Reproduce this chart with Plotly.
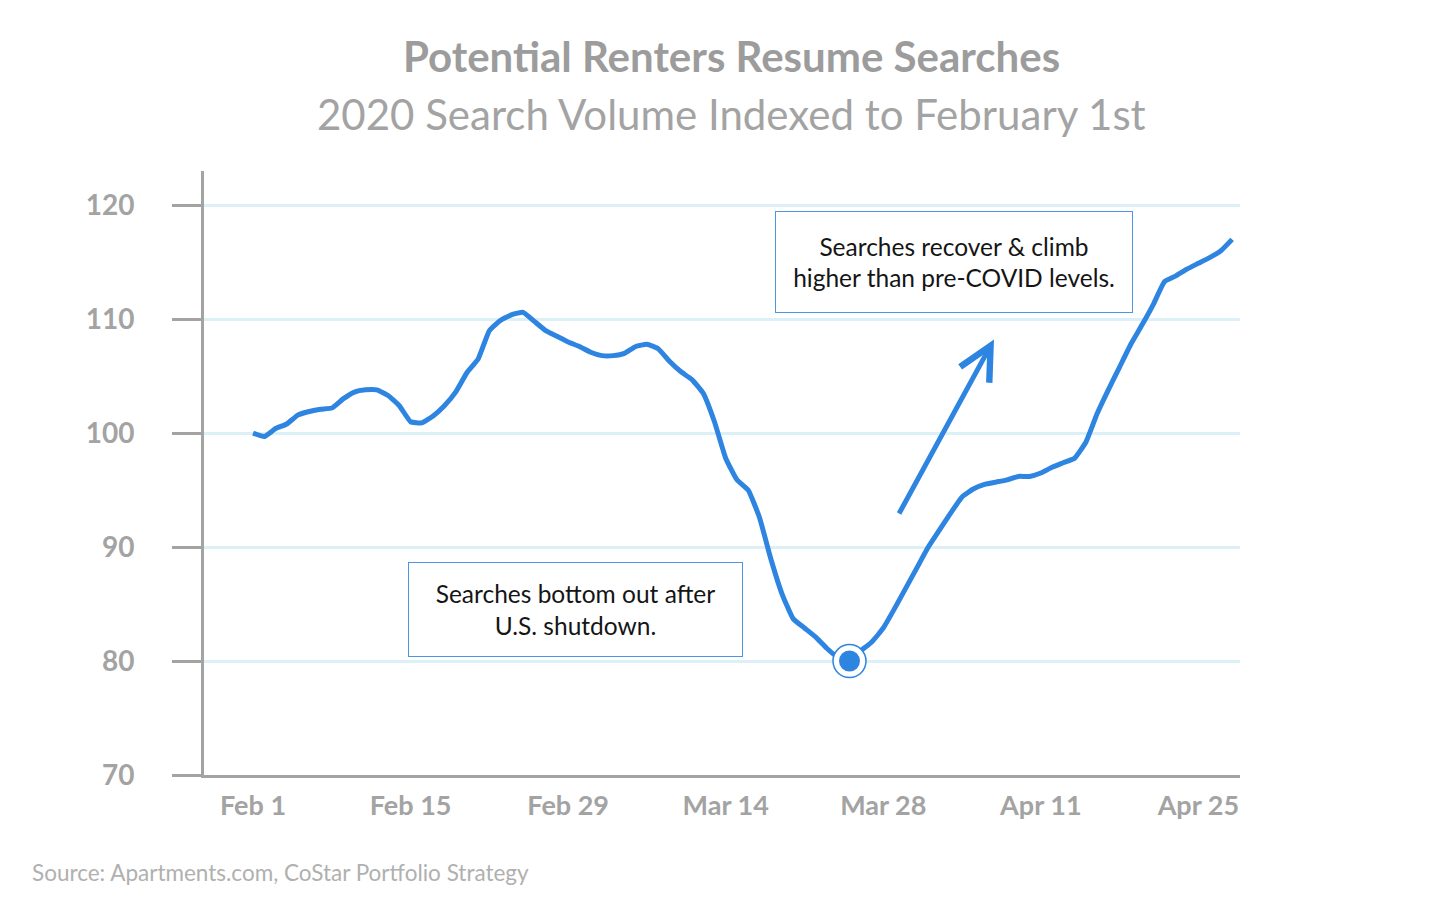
import pandas as pd
import plotly.graph_objects as go

# ---- data ----
start_date = "2020-02-01"
index_values = [
    100.0, 99.7, 100.4, 100.8, 101.6, 101.9, 102.1, 102.2, 103.0, 103.6,
    103.8, 103.8, 103.3, 102.4, 101.0, 100.9, 101.5, 102.4, 103.6, 105.3,
    106.5, 109.0, 109.9, 110.4, 110.6, 109.8, 109.0, 108.5, 108.0, 107.6,
    107.1, 106.8, 106.8, 107.0, 107.6, 107.8, 107.4, 106.3, 105.4, 104.7,
    103.5, 101.0, 97.8, 95.9, 95.0, 92.6, 89.0, 85.9, 83.7, 82.9,
    82.1, 81.1, 80.3, 80.0, 80.9, 81.7, 82.9, 84.6, 86.4, 88.2,
    90.0, 91.5, 93.0, 94.4, 95.1, 95.5, 95.7, 95.9, 96.2, 96.2,
    96.5, 97.0, 97.4, 97.8, 99.2, 101.7, 103.8, 105.8, 107.8, 109.5,
    111.3, 113.3, 113.8, 114.4, 114.9, 115.4, 116.0, 117.0,
]
x_tick_dates = ["2020-02-01", "2020-02-15", "2020-02-29", "2020-03-14",
                "2020-03-28", "2020-04-11", "2020-04-25"]
x_tick_labels = ["Feb 1", "Feb 15", "Feb 29", "Mar 14", "Mar 28", "Apr 11", "Apr 25"]
y_tick_vals = [70, 80, 90, 100, 110, 120]
y_tick_labels = ["70", "80", "90", "100", "110", "120"]

dates = pd.date_range(start_date, periods=len(index_values), freq="D")
min_i = min(range(len(index_values)), key=lambda i: index_values[i])

BLUE = "#2D84E1"
GRAY = "#a3a3a3"
FONT = "Lato"

def day(d):
    return pd.Timestamp(start_date) + pd.Timedelta(days=d)

fig = go.Figure()
fig.add_trace(go.Scatter(
    x=dates, y=index_values, mode="lines",
    line=dict(color=BLUE, width=5, shape="spline", smoothing=0.4),
    hoverinfo="skip", showlegend=False,
))
fig.add_trace(go.Scatter(
    x=[dates[min_i]], y=[index_values[min_i]], mode="markers",
    marker=dict(size=33, color="white", line=dict(color=BLUE, width=1.5)),
    showlegend=False, hoverinfo="skip",
))
fig.add_trace(go.Scatter(
    x=[dates[min_i]], y=[index_values[min_i]], mode="markers",
    marker=dict(size=21, color=BLUE),
    showlegend=False, hoverinfo="skip",
))

annotations = [
    dict(text="<b>Potential Renters Resume Searches</b>", x=0.509, y=1.19,
         xref="paper", yref="paper", showarrow=False, xanchor="center", yanchor="middle",
         font=dict(family=FONT, size=42, color="#9c9c9c")),
    dict(text="2020 Search Volume Indexed to February 1st", x=0.509, y=1.094,
         xref="paper", yref="paper", showarrow=False, xanchor="center", yanchor="middle",
         font=dict(family=FONT, size=42, color="#a3a3a3")),
    dict(text="Source: Apartments.com, CoStar Portfolio Strategy", x=-0.168, y=-0.162,
         xref="paper", yref="paper", showarrow=False, xanchor="left", yanchor="middle",
         font=dict(family=FONT, size=22.5, color="#b0b0b0")),
    dict(text="Searches bottom out after<br>U.S. shutdown.", x=0.3584, y=0.2739,
         xref="paper", yref="paper", showarrow=False, xanchor="center", yanchor="middle",
         width=333, height=93, borderpad=0, bordercolor="#4a96e4", borderwidth=1,
         bgcolor="white", font=dict(family=FONT, size=24.5, color="#151515")),
    dict(text="Searches recover & climb<br>higher than pre-COVID levels.", x=0.7239, y=0.849,
         xref="paper", yref="paper", showarrow=False, xanchor="center", yanchor="middle",
         width=356, height=100, borderpad=0, bordercolor="#4a96e4", borderwidth=1,
         bgcolor="white", font=dict(family=FONT, size=24.5, color="#151515")),
    dict(text="", x=day(65.84), y=108.22, ax=day(57.33), ay=92.81,
         xref="x", yref="y", axref="x", ayref="y", showarrow=True,
         arrowhead=5, arrowsize=1.3, arrowwidth=5, arrowcolor=BLUE, standoff=0),
]

fig.update_layout(
    width=1450, height=900, autosize=False,
    margin=dict(l=196, r=218, t=163, b=133),
    plot_bgcolor="white", paper_bgcolor="white",
    annotations=annotations,
    font=dict(family=FONT),
    xaxis=dict(
        type="date",
        range=[day(-4.36), day(87.7)],
        tickvals=x_tick_dates, ticktext=x_tick_labels,
        showgrid=False, zeroline=False,
        showline=True, linecolor=GRAY, linewidth=3,
        ticks="", ticklabelstandoff=5,
        tickfont=dict(family=FONT, size=27, color=GRAY, weight="bold"),
    ),
    yaxis=dict(
        range=[70, 123],
        tickvals=y_tick_vals, ticktext=y_tick_labels,
        showgrid=True, gridcolor="#dcf0f8", gridwidth=3,
        zeroline=False,
        showline=True, linecolor=GRAY, linewidth=3,
        ticks="outside", ticklen=29, tickwidth=3, tickcolor=GRAY,
        ticklabelstandoff=32,
        tickfont=dict(family=FONT, size=28, color=GRAY, weight="bold"),
    ),
)

fig.write_html("out.html")
